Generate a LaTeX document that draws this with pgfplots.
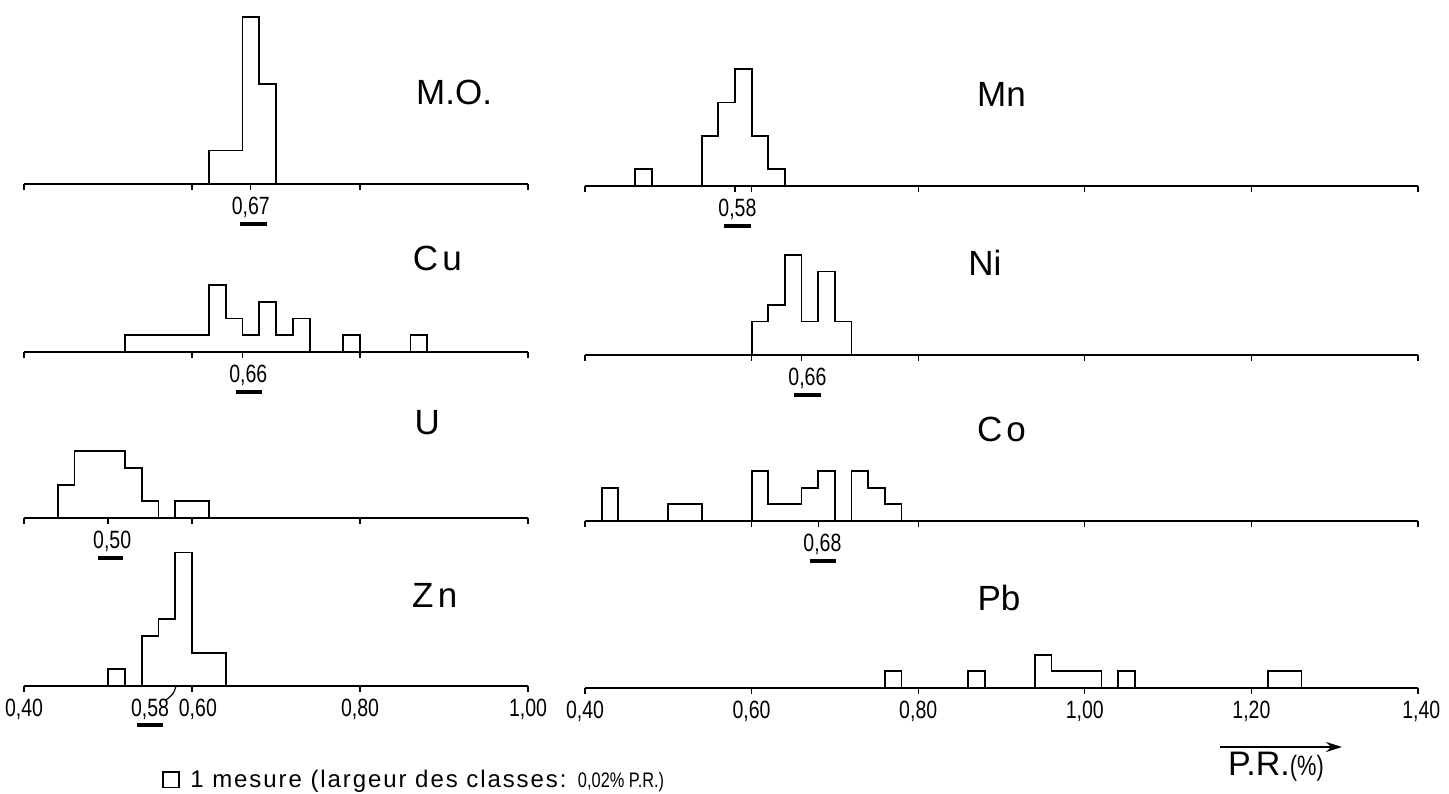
\documentclass[border=0pt]{standalone}
\usepackage{fontspec}
\setmainfont{Liberation Sans}
\newfontfamily\narrowfont[FakeStretch=0.78]{Liberation Sans}
\usepackage{pgfplots}
\pgfplotsset{compat=1.18}
\usetikzlibrary{arrows.meta}

\newcommand{\tickfont}{\narrowfont\fontsize{12.5}{13}\selectfont}
\newcommand{\titlefont}{\fontsize{17.5}{20}\selectfont}

% #1 mean tick value, #2 label x, #3 label text, #4 bar left, #5 bar right
\newcommand{\meanmark}[5]{%
  \draw[line width=0.6pt] (axis cs:#1,0) -- ([yshift=-3pt]axis cs:#1,0);
  \node[font=\tickfont, inner sep=0pt] at ([yshift=-11.5pt]axis cs:#2,0) {#3};
  \draw[line width=2pt] ([yshift=-20pt]axis cs:#4,0) -- ([yshift=-20pt]axis cs:#5,0);
}

\pgfplotsset{
  hist/.style={
    scale only axis, clip=false, anchor=south west,
    axis x line=bottom, axis y line=none,
    axis line style={line width=1.2pt, -},
    ymin=0, ymax=10, height=83.5pt,
    xmin=0.40,
    tick align=outside, major tick length=3pt,
    tick style={black, line width=0.6pt},
    xticklabels={},
  },
  leftcol/.style={hist, xmax=1.00, width=252pt, xtick={0.4,0.6,0.8,1.0}},
  rightcol/.style={hist, xmax=1.40, width=416.5pt, xtick={0.4,0.6,0.8,1.0,1.2,1.4}},
  histline/.style={const plot, black, line width=0.9pt, mark=none, line join=miter},
}

\begin{document}
\begin{tikzpicture}
\useasboundingbox (0pt,0pt) rectangle (724.5pt,396.5pt);

% ---------------- left column ----------------
% M.O.
\begin{axis}[leftcol, at={(12pt,304.5pt)}]
\addplot[histline] coordinates {(0.62,0) (0.62,2) (0.66,10) (0.68,6) (0.70,0)};
\meanmark{0.67}{0.67}{0,67}{0.657}{0.689}
\node[font=\titlefont] at (axis cs:0.912,5.5) {M.O.};
\end{axis}

% Cu
\begin{axis}[leftcol, at={(12pt,220.5pt)}]
\addplot[histline] coordinates {(0.52,0) (0.52,1) (0.62,4) (0.64,2) (0.66,1) (0.68,3) (0.70,1) (0.72,2) (0.74,0) (0.78,1) (0.80,0) (0.86,1) (0.88,0)};
\meanmark{0.66}{0.667}{0,66}{0.652}{0.683}
\node[font=\titlefont\addfontfeature{LetterSpace=12}] at (axis cs:0.892,5.6) {Cu};
\end{axis}

% U
\begin{axis}[leftcol, at={(12pt,137.5pt)}]
\addplot[histline] coordinates {(0.44,0) (0.44,2) (0.46,4) (0.52,3) (0.54,1) (0.56,0) (0.58,1) (0.62,0)};
\meanmark{0.50}{0.505}{0,50}{0.488}{0.518}
\node[font=\titlefont] at (axis cs:0.880,5.7) {U};
\end{axis}

% Zn
\begin{axis}[leftcol, at={(12pt,53.5pt)}]
\addplot[histline] coordinates {(0.50,0) (0.50,1) (0.52,0) (0.54,3) (0.56,4) (0.58,8) (0.60,2) (0.64,0)};
\node[font=\tickfont, inner sep=0pt] at ([yshift=-11.5pt]axis cs:0.55,0) {0,58};
\draw[line width=2pt] ([yshift=-19.5pt]axis cs:0.535,0) -- ([yshift=-19.5pt]axis cs:0.566,0);
\draw[line width=0.6pt] ([yshift=-7pt]axis cs:0.569,0) .. controls ([yshift=-4pt]axis cs:0.578,0) .. (axis cs:0.581,0);
\node[font=\tickfont, inner sep=0pt] at ([yshift=-11.5pt]axis cs:0.40,0) {0,40};
\node[font=\tickfont, inner sep=0pt] at ([yshift=-11.5pt]axis cs:0.607,0) {0,60};
\node[font=\tickfont, inner sep=0pt] at ([yshift=-11.5pt]axis cs:0.80,0) {0,80};
\node[font=\tickfont, inner sep=0pt] at ([yshift=-11.5pt]axis cs:1.00,0) {1,00};
\node[font=\titlefont\addfontfeature{LetterSpace=12}] at (axis cs:0.889,5.4) {Zn};
\end{axis}

% ---------------- right column ----------------
% Mn
\begin{axis}[rightcol, at={(292.5pt,303.5pt)}]
\addplot[histline] coordinates {(0.46,0) (0.46,1) (0.48,0) (0.54,3) (0.56,5) (0.58,7) (0.60,3) (0.62,1) (0.64,0)};
\meanmark{0.58}{0.583}{0,58}{0.567}{0.599}
\node[font=\titlefont] at (axis cs:0.90,5.5) {Mn};
\end{axis}

% Ni
\begin{axis}[rightcol, at={(292.5pt,219pt)}]
\addplot[histline] coordinates {(0.60,0) (0.60,2) (0.62,3) (0.64,6) (0.66,2) (0.68,5) (0.70,2) (0.72,0)};
\meanmark{0.66}{0.667}{0,66}{0.651}{0.683}
\node[font=\titlefont] at (axis cs:0.88,5.5) {Ni};
\end{axis}

% Co
\begin{axis}[rightcol, at={(292.5pt,136pt)}]
\addplot[histline] coordinates {(0.42,0) (0.42,2) (0.44,0) (0.50,1) (0.54,0) (0.60,3) (0.62,1) (0.66,2) (0.68,3) (0.70,0) (0.72,3) (0.74,2) (0.76,1) (0.78,0)};
\meanmark{0.68}{0.685}{0,68}{0.670}{0.701}
\node[font=\titlefont\addfontfeature{LetterSpace=12}] at (axis cs:0.90,5.5) {Co};
\end{axis}

% Pb
\begin{axis}[rightcol, at={(292.5pt,52.5pt)}]
\addplot[histline] coordinates {(0.76,0) (0.76,1) (0.78,0) (0.86,1) (0.88,0) (0.94,2) (0.96,1) (1.02,0) (1.04,1) (1.06,0) (1.22,1) (1.26,0)};
\node[font=\tickfont, inner sep=0pt] at ([yshift=-11.5pt]axis cs:0.40,0) {0,40};
\node[font=\tickfont, inner sep=0pt] at ([yshift=-11.5pt]axis cs:0.60,0) {0,60};
\node[font=\tickfont, inner sep=0pt] at ([yshift=-11.5pt]axis cs:0.80,0) {0,80};
\node[font=\tickfont, inner sep=0pt] at ([yshift=-11.5pt]axis cs:1.00,0) {1,00};
\node[font=\tickfont, inner sep=0pt] at ([yshift=-11.5pt]axis cs:1.20,0) {1,20};
\node[font=\tickfont, inner sep=0pt] at ([yshift=-11.5pt]axis cs:1.404,0) {1,40};
\node[font=\titlefont] at (axis cs:0.897,5.4) {Pb};
\end{axis}

% ---------------- legend and axis caption ----------------
\draw[line width=0.8pt] (81.5pt,2.8pt) rectangle (89.5pt,10.5pt);
\node[anchor=base west, inner sep=0pt, font=\fontsize{12}{14}\selectfont\addfontfeature{LetterSpace=8}] at (95pt,3pt)
  {1 mesure (largeur des classes: {\narrowfont\fontsize{10.5}{12}\selectfont 0,02\% P.R.)}};
\draw[line width=1.1pt, -{Stealth[length=8pt,width=5pt]}] (610pt,23pt) -- (671pt,23pt);
\node[inner sep=0pt] at (638pt,13pt) {\fontsize{17}{20}\selectfont P.R.{\narrowfont\fontsize{14}{16}\selectfont(\%)}};

\end{tikzpicture}
\end{document}
